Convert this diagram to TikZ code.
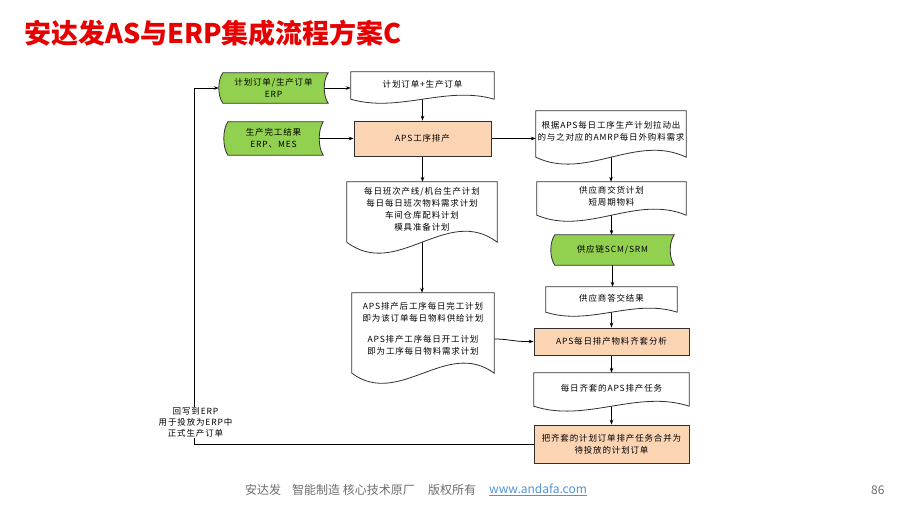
\documentclass[tikz,border=0pt]{standalone}
\usepackage{fontspec}
\setmainfont{Noto Sans CJK SC}
\newfontfamily\dfont{Noto Sans CJK SC}[LetterSpace=10]
\usetikzlibrary{calc,arrows.meta}
\definecolor{gfill}{HTML}{92D050}
\definecolor{pfill}{HTML}{FBD4B4}
\definecolor{titlered}{HTML}{E60000}
\definecolor{footgray}{HTML}{6E6E6E}
\definecolor{urlblue}{HTML}{4F94D9}
\definecolor{edge}{HTML}{303030}
\pgfdeclarelayer{bg}
\pgfdeclarelayer{conn}
\pgfdeclarelayer{shp}
\pgfsetlayers{bg,conn,shp,main}
\tikzset{
  boxline/.style={draw=edge, line width=0.8pt},
  txt/.style={font=\dfont\fontsize{8.5}{12}\selectfont, align=center, inner sep=0pt, text=black},
  procbox/.style={txt, boxline, fill=pfill},
  arr/.style={draw=black, line width=0.75pt, -{Stealth[length=5pt,width=3.6pt]}},
  foot/.style={anchor=west, font=\fontsize{12}{14}\selectfont, text=footgray, inner sep=0pt}
}
% document outline: name, drop of wave ends below south, control offset
\newcommand\docshape[3]{%
  \begin{pgfonlayer}{shp}
  \draw[boxline, fill=white] ($(#1.south west)+(0,#2)$) -- (#1.north west) -- (#1.north east)
    -- ($(#1.south east)+(0,#2)$)
    .. controls ($(#1.south east)!0.3333!(#1.south west)+(0,#2-#3)$)
    and ($(#1.south east)!0.6667!(#1.south west)+(0,#2+#3)$) .. ($(#1.south west)+(0,#2)$) -- cycle;
  \end{pgfonlayer}}
% stored data outline: name, bulge
\newcommand\storeshape[2]{%
  \begin{pgfonlayer}{shp}
  \draw[boxline, fill=gfill] ($(#1.north west)+(#2,0)$) -- (#1.north east)
    .. controls ($(#1.north east)!0.25!(#1.south east)+(-1.333*#2,0)$)
    and ($(#1.north east)!0.75!(#1.south east)+(-1.333*#2,0)$) .. (#1.south east)
    -- ($(#1.south west)+(#2,0)$)
    .. controls ($(#1.south west)!0.25!(#1.north west)+(-0.333*#2,0)$)
    and ($(#1.south west)!0.75!(#1.north west)+(-0.333*#2,0)$) .. ($(#1.north west)+(#2,0)$) -- cycle;
  \end{pgfonlayer}}
\begin{document}
\begin{tikzpicture}[x=1pt,y=-1pt]
\useasboundingbox (0,0) rectangle (907,509);
\begin{pgfonlayer}{bg}
\fill[white] (0,0) rectangle (907,509);
\end{pgfonlayer}

% title
\node[anchor=west, text=titlered, inner sep=0pt, font=\bfseries\fontsize{27}{30}\selectfont] (title) at (24,33) {安达发AS与ERP集成流程方案C};

% left column
\node[txt, minimum width=109pt, minimum height=30pt] (g1) at (273.5,88) {计划订单/生产订单\\ERP};
\storeshape{g1}{4}
\node[txt, minimum width=99pt, minimum height=33pt] (g2) at (273.5,138.5) {生产完工结果\\ERP、MES};
\storeshape{g2}{4}

% middle column
\node[txt, minimum width=143pt, minimum height=24pt] (d1) at (422.5,84) {计划订单+生产订单};
\docshape{d1}{3}{14}
\node[procbox, minimum width=137pt, minimum height=35pt] (a) at (422.5,138.5) {APS工序排产};
\node[txt, minimum width=150pt, minimum height=54pt] (d2) at (422,209) {每日班次产线/机台生产计划\\每日每日班次物料需求计划\\车间仓库配料计划\\模具准备计划};
\docshape{d2}{6}{38}
\node[txt, minimum width=142pt, minimum height=72pt] (d3) at (423,329) {APS排产后工序每日完工计划\\即为该订单每日物料供给计划\\[9pt]APS排产工序每日开工计划\\即为工序每日物料需求计划};
\docshape{d3}{8}{35}

% right column
\node[txt, minimum width=150pt, minimum height=40pt] (r1) at (611,131) {根据APS每日工序生产计划拉动出\\的与之对应的AMRP每日外购料需求};
\docshape{r1}{6}{24}
\node[txt, minimum width=149pt, minimum height=29pt] (r2) at (611.5,196.5) {供应商交货计划\\短周期物料};
\docshape{r2}{4}{21}
\node[txt, minimum width=123pt, minimum height=30pt] (g3) at (612.5,250) {供应链SCM/SRM};
\storeshape{g3}{4}
\node[txt, minimum width=131pt, minimum height=22pt] (r3) at (611.5,298) {供应商答交结果};
\docshape{r3}{3}{14}
\node[procbox, minimum width=155pt, minimum height=27pt] (p1) at (611.5,341.5) {APS每日排产物料齐套分析};
\node[txt, minimum width=155pt, minimum height=30pt] (r4) at (611.5,388) {每日齐套的APS排产任务};
\docshape{r4}{3}{17}
\node[procbox, minimum width=155pt, minimum height=38pt] (p2) at (611.5,444) {把齐套的计划订单排产任务合并为\\待投放的计划订单};

% feedback label
\coordinate (fb) at (194.5,0);
\node[txt, font=\dfont\fontsize{8.5}{10.8}\selectfont, fill=white, inner sep=1pt] (lbl) at (195.5,422.5) {回写到ERP\\用于投放为ERP中\\正式生产订单};

% connectors
\begin{pgfonlayer}{conn}
\draw[arr] (g1.center) -- (g1.center -| d1.west);
\draw[arr] (d1.center) -- (d1.center |- a.north);
\draw[arr] (g2.center) -- (g2.center -| a.west);
\draw[arr] (a.center) -- (a.center -| r1.west);
\draw[arr] (a.center) -- (a.center |- d2.north);
\draw[arr] (d2.center) -- (d2.center |- d3.north);
\draw[arr] ($(d3.east)+(0,10)$) .. controls +(14,0) and +(-12,0) .. ($(p1.west)+(-8,0)$) -- (p1.west);
\draw[arr] (r1.center) -- (r1.center |- r2.north);
\draw[arr] (r2.center) -- (r2.center |- g3.north);
\draw[arr] (g3.center) -- (g3.center |- r3.north);
\draw[arr] (r3.center) -- (r3.center |- p1.north);
\draw[arr] (p1.center) -- (p1.center |- r4.north);
\draw[arr] (r4.center) -- (r4.center |- p2.north);
\draw[arr] (p2.center) -- (p2.center -| fb) -- (fb |- g1.west) -- (g1.west);
\end{pgfonlayer}

% footer
\node[foot] (f1) at (245,490) {安达发};
\node[foot] (f2) at (292,490) {智能制造 核心技术原厂};
\node[foot] (f3) at (428,490) {版权所有};
\node[foot, text=urlblue] (f4) at (489,490) {\underline{www.andafa.com}};
\node[foot] (f5) at (871,490) {86};
\end{tikzpicture}
\end{document}
